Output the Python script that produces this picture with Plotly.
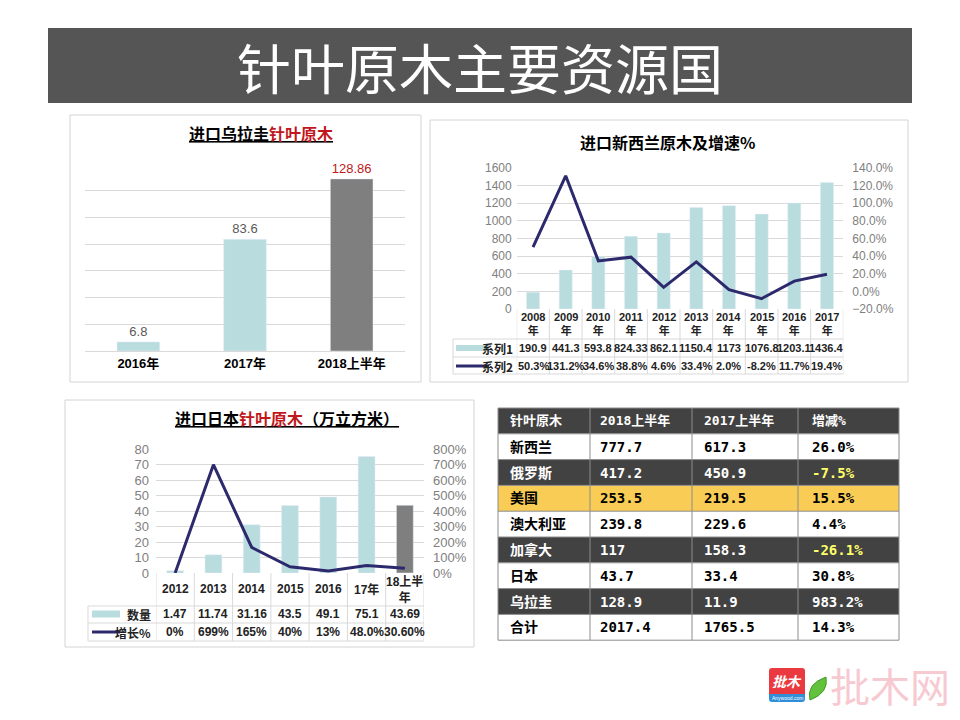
import plotly.graph_objects as go

# 进口乌拉圭针叶原木
uy_years = ['2016年', '2017年', '2018上半年']
uy_values = [6.8, 83.6, 128.86]

# 进口新西兰原木及增速%
nz_years = ['2008', '2009', '2010', '2011', '2012', '2013', '2014', '2015', '2016', '2017']
nz_volume = [190.9, 441.3, 593.8, 824.33, 862.1, 1150.4, 1173, 1076.8, 1203.1, 1436.4]
nz_growth = [50.3, 131.2, 34.6, 38.8, 4.6, 33.4, 2.0, -8.2, 11.7, 19.4]

# 进口日本针叶原木（万立方米）
jp_years = ['2012', '2013', '2014', '2015', '2016', '17年', '18上半年']
jp_volume = [1.47, 11.74, 31.16, 43.5, 49.1, 75.1, 43.69]
jp_growth = [0, 699, 165, 40, 13, 48.0, 30.6]
jp_growth_text = ['0%', '699%', '165%', '40%', '13%', '48.0%', '30.60%']

# 主要资源国表
tbl_header = ['针叶原木', '2018上半年', '2017上半年', '增减%']
tbl_country = ['新西兰', '俄罗斯', '美国', '澳大利亚', '加拿大', '日本', '乌拉圭', '合计']
tbl_2018 = ['777.7', '417.2', '253.5', '239.8', '117', '43.7', '128.9', '2017.4']
tbl_2017 = ['617.3', '450.9', '219.5', '229.6', '158.3', '33.4', '11.9', '1765.5']
tbl_change = ['26.0%', '-7.5%', '15.5%', '4.4%', '-26.1%', '30.8%', '983.2%', '14.3%']
tbl_style = ['light', 'dark', 'gold', 'light', 'dark', 'light', 'dark', 'light']

W, H = 960, 720
CJK = 'Noto Sans CJK SC'
MONO = 'DejaVu Sans Mono, ' + CJK
TEAL = '#b9dcdf'
GREY_BAR = '#7f7f7f'
NAVY = '#2c2a6c'
RED = '#c0181c'
GRID = '#d9d9d9'


def px(x):
    return x / W


def py(y):
    return 1 - y / H


def prect(x0, y0, x1, y1, **kw):
    return dict(type='rect', xref='paper', yref='paper', x0=px(x0), x1=px(x1),
                y0=py(y1), y1=py(y0), **kw)


def pline(x0, y0, x1, y1, color, width=1):
    return dict(type='line', xref='paper', yref='paper', x0=px(x0), x1=px(x1),
                y0=py(y0), y1=py(y1), line=dict(color=color, width=width))


fig = go.Figure()

# chart 1 - bars
fig.add_trace(go.Bar(
    x=uy_years, y=uy_values, xaxis='x', yaxis='y',
    marker_color=[TEAL, TEAL, GREY_BAR], width=0.4,
    text=[f"{v:g}" for v in uy_values], textposition='outside', cliponaxis=False,
    textfont=dict(size=13, color=['#595959', '#595959', RED], family='Arial'),
    showlegend=False
))

# chart 2 - bars + growth line
fig.add_trace(go.Bar(
    x=nz_years, y=nz_volume, xaxis='x2', yaxis='y2',
    marker_color=TEAL, width=0.4, showlegend=False
))
fig.add_trace(go.Scatter(
    x=nz_years, y=nz_growth, xaxis='x2', yaxis='y3', mode='lines',
    line=dict(color=NAVY, width=3), showlegend=False
))

# chart 3 - bars + growth line
fig.add_trace(go.Bar(
    x=jp_years, y=jp_volume, xaxis='x4', yaxis='y4',
    marker_color=[TEAL] * 6 + [GREY_BAR], width=0.44, showlegend=False
))
fig.add_trace(go.Scatter(
    x=jp_years, y=jp_growth, xaxis='x4', yaxis='y5', mode='lines',
    line=dict(color=NAVY, width=3), showlegend=False
))

shapes = []
annotations = []

# banner
shapes.append(prect(48, 28, 912, 103, fillcolor='#555555', line_width=0, layer='below'))
annotations.append(dict(text='针叶原木主要资源国', x=0.5, y=py(66), xref='paper', yref='paper',
                        showarrow=False, font=dict(size=54, color='white', family=CJK)))

# chart boxes
for x0, y0, x1, y1 in [(70, 115, 421, 382), (430, 120, 908, 382), (65, 400, 474, 647)]:
    shapes.append(prect(x0, y0, x1, y1, line=dict(color='#d4d4d4', width=1),
                        fillcolor='rgba(0,0,0,0)', layer='below'))

# chart titles
annotations.append(dict(
    text=f"<b><u>进口乌拉圭<span style='color:{RED}'>针叶原木</span></u></b>",
    x=px(261), y=py(133), xref='paper', yref='paper', showarrow=False,
    font=dict(size=16, color='black', family=CJK)))
annotations.append(dict(
    text="<b>进口新西兰原木及增速%</b>",
    x=px(667), y=py(142), xref='paper', yref='paper', showarrow=False,
    font=dict(size=16, color='black', family=CJK)))
annotations.append(dict(
    text=f"<b><u>进口日本<span style='color:{RED}'>针叶原木</span>（万立方米）</u></b>",
    x=px(287), y=py(418), xref='paper', yref='paper', showarrow=False,
    font=dict(size=16, color='black', family=CJK)))

# chart 2 data table (columns follow the category axis)
tf = dict(size=11, color='#222222', family='Arial, ' + CJK)
for i, yr in enumerate(nz_years):
    annotations.append(dict(text=f"<b>{yr}<br>年</b>", x=i, xref='x2', y=py(324), yref='paper',
                            showarrow=False, font=tf))
    annotations.append(dict(text=f"<b>{nz_volume[i]:g}</b>", x=i, xref='x2', y=py(348), yref='paper',
                            showarrow=False, font=tf))
    annotations.append(dict(text=f"<b>{nz_growth[i]:.1f}%</b>", x=i, xref='x2', y=py(366), yref='paper',
                            showarrow=False, font=tf))
for k in range(len(nz_years) + 1):
    shapes.append(dict(type='line', xref='x2', yref='paper', x0=k - 0.5, x1=k - 0.5,
                       y0=py(374), y1=py(309), line=dict(color=GRID, width=1)))
shapes.append(pline(453, 339, 453, 374, GRID))
for yy in (339, 357, 374):
    shapes.append(pline(453, yy, 843.3, yy, GRID))
shapes.append(pline(456, 348, 489, 348, TEAL, 6))
shapes.append(pline(456, 366, 489, 366, NAVY, 3))
for lab, yy in (('系列1', 348), ('系列2', 366)):
    annotations.append(dict(text=f"<b>{lab}</b>", x=px(515), y=py(yy), xref='paper', yref='paper',
                            xanchor='right', showarrow=False, font=dict(size=12, color='#222', family=CJK)))

# chart 3 data table
tf3 = dict(size=12, color='#222222', family='Arial, ' + CJK)
for i, yr in enumerate(jp_years):
    head = '18上半<br>年' if yr == '18上半年' else yr
    annotations.append(dict(text=f"<b>{head}</b>", x=i, xref='x4', y=py(589), yref='paper',
                            showarrow=False, font=tf3))
    annotations.append(dict(text=f"<b>{jp_volume[i]:g}</b>", x=i, xref='x4', y=py(614), yref='paper',
                            showarrow=False, font=tf3))
    annotations.append(dict(text=f"<b>{jp_growth_text[i]}</b>", x=i, xref='x4', y=py(632), yref='paper',
                            showarrow=False, font=tf3))
for k in range(len(jp_years) + 1):
    shapes.append(dict(type='line', xref='x4', yref='paper', x0=k - 0.5, x1=k - 0.5,
                       y0=py(641), y1=py(573), line=dict(color=GRID, width=1)))
shapes.append(pline(88, 606, 88, 641, GRID))
for yy in (606, 623, 641):
    shapes.append(pline(88, yy, 424, yy, GRID))
shapes.append(pline(92, 614, 120, 614, TEAL, 7))
shapes.append(pline(92, 632, 120, 632, NAVY, 3))
for lab, yy in (('数量', 614), ('增长%', 632)):
    annotations.append(dict(text=f"<b>{lab}</b>", x=px(153), y=py(yy), xref='paper', yref='paper',
                            xanchor='right', showarrow=False, font=dict(size=12, color='#222', family=CJK)))

# right table, drawn cell by cell
col_x = [498, 590, 692, 798, 899]
txt_pad = [10, 8, 10, 12]
row_top, row_h = 408, 25.8
fills = {'dark': '#424242', 'light': '#ffffff', 'gold': '#f9cd55'}
rows = [('dark', tbl_header)] + [
    (s, [c, a, b, d]) for s, c, a, b, d in zip(tbl_style, tbl_country, tbl_2018, tbl_2017, tbl_change)]
for r, (style, vals) in enumerate(rows):
    y0 = row_top + r * row_h
    shapes.append(prect(col_x[0], y0, col_x[-1], y0 + row_h, fillcolor=fills[style],
                        line_width=0, layer='below'))
    for c, v in enumerate(vals):
        color = '#ffffff' if style == 'dark' else '#000000'
        if c == 3 and style == 'dark' and v.startswith('-'):
            color = '#ffff66'
        annotations.append(dict(text=f"<b>{v}</b>", x=px(col_x[c] + txt_pad[c]), y=py(y0 + row_h / 2),
                                xref='paper', yref='paper', xanchor='left', showarrow=False,
                                font=dict(size=14 if r else 13, color=color, family=MONO)))
table_bottom = row_top + len(rows) * row_h
for r in range(len(rows) + 1):
    yy = row_top + r * row_h
    shapes.append(pline(col_x[0], yy, col_x[-1], yy, '#8c8c8c'))
for xx in col_x:
    shapes.append(pline(xx, row_top, xx, table_bottom, '#8c8c8c'))

# logo
shapes.append(dict(type='path', xref='paper', yref='paper',
                   path=f"M {px(772)} {py(668)} L {px(802)} {py(668)} Q {px(805)} {py(668)} {px(805)} {py(671)} "
                        f"L {px(805)} {py(694)} L {px(769)} {py(694)} L {px(769)} {py(671)} "
                        f"Q {px(769)} {py(668)} {px(772)} {py(668)} Z",
                   fillcolor='#ea3a3f', line_width=0))
shapes.append(dict(type='path', xref='paper', yref='paper',
                   path=f"M {px(769)} {py(694)} L {px(805)} {py(694)} L {px(805)} {py(699)} "
                        f"Q {px(805)} {py(702)} {px(802)} {py(702)} L {px(772)} {py(702)} "
                        f"Q {px(769)} {py(702)} {px(769)} {py(699)} Z",
                   fillcolor='#2f8fd8', line_width=0))
annotations.append(dict(text='<b><i>批木</i></b>', x=px(787), y=py(681), xref='paper', yref='paper',
                        showarrow=False, font=dict(size=14, color='white', family=CJK)))
annotations.append(dict(text='Anywood.com', x=px(787), y=py(698), xref='paper', yref='paper',
                        showarrow=False, font=dict(size=5, color='white', family='Arial')))
shapes.append(dict(type='path', xref='paper', yref='paper',
                   path=f"M {px(810)} {py(700)} Q {px(806)} {py(684)} {px(826)} {py(677)} "
                        f"Q {px(829)} {py(693)} {px(810)} {py(700)} Z",
                   fillcolor='#62c23c', line=dict(color='#3f9a25', width=1)))
annotations.append(dict(text='批木网', x=px(890), y=py(685), xref='paper', yref='paper',
                        showarrow=False, font=dict(size=40, color='#f7cad1', family=CJK)))

for a in annotations:
    a.setdefault('xanchor', 'center')
    a.setdefault('yanchor', 'middle')

axis_font = dict(size=12, color='#808080', family='Arial')
fig.update_layout(
    width=W, height=H, margin=dict(l=0, r=0, t=0, b=0, autoexpand=False),
    paper_bgcolor='white', plot_bgcolor='rgba(0,0,0,0)',
    bargap=0.6,
    xaxis=dict(domain=[px(85), px(405)], anchor='y', type='category', automargin=False,
               showline=True, linecolor=GRID, ticks='', showgrid=False,
               tickfont=dict(size=13, color='black', family='Arial, ' + CJK, weight='bold')),
    yaxis=dict(domain=[py(351), py(164)], anchor='x', range=[0, 140], dtick=20, automargin=False,
               showticklabels=False, gridcolor=GRID, zeroline=False),
    xaxis2=dict(domain=[px(516.7), px(843.3)], anchor='y2', type='category', automargin=False,
                range=[-0.5, len(nz_years) - 0.5],
                showticklabels=False, showgrid=False, ticks=''),
    yaxis2=dict(domain=[py(309), py(168)], anchor='x2', range=[0, 1600], dtick=200, automargin=False,
                gridcolor=GRID, zeroline=False, tickfont=axis_font, ticklabelstandoff=4),
    yaxis3=dict(overlaying='y2', anchor='x2', side='right', range=[-20, 140], dtick=20, automargin=False,
                tickformat='.1f', ticksuffix='%', showgrid=False, zeroline=False, tickfont=axis_font,
                ticklabelstandoff=8),
    xaxis4=dict(domain=[px(156), px(424)], anchor='y4', type='category', automargin=False,
                range=[-0.5, len(jp_years) - 0.5],
                showticklabels=False, showgrid=False, ticks=''),
    yaxis4=dict(domain=[py(573), py(449)], anchor='x4', range=[0, 80], dtick=10, automargin=False,
                gridcolor=GRID, zeroline=False, tickfont=dict(size=13, color='#808080', family='Arial'),
                ticklabelstandoff=6),
    yaxis5=dict(overlaying='y4', anchor='x4', side='right', range=[0, 800], dtick=100, automargin=False,
                ticksuffix='%', showgrid=False, zeroline=False, ticklabelstandoff=8,
                tickfont=dict(size=13, color='#808080', family='Arial')),
    shapes=shapes,
    annotations=annotations,
)

fig.write_html("out.html", config={'displayModeBar': False},
               post_script="document.body.style.margin='0';")
